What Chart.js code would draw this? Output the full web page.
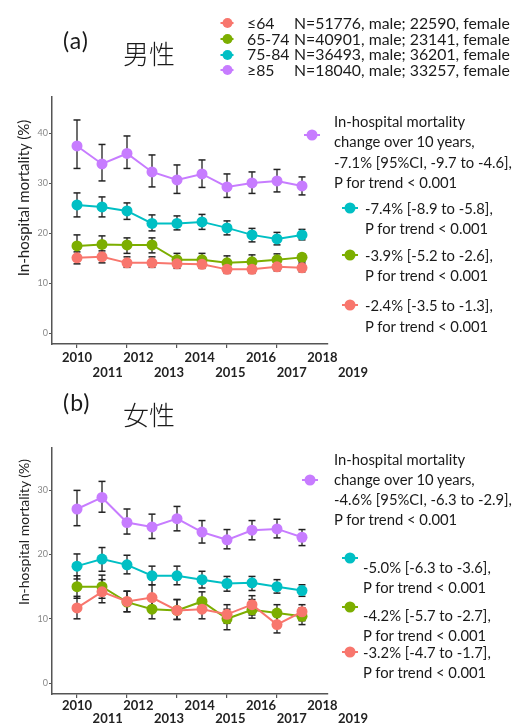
<!DOCTYPE html>
<html>
<head>
<meta charset="utf-8">
<script src="https://cdn.jsdelivr.net/npm/chart.js@4.4.1/dist/chart.umd.min.js"></script>
<style>
body{margin:0;background:#fff;}
#fig{position:relative;width:520px;height:726px;overflow:hidden;font-family:Lato,"Open Sans",sans-serif;color:#1a1a1a;}
canvas{position:absolute;left:0;top:0;}
.t{position:absolute;white-space:nowrap;}
.lab{font-size:23px;line-height:28px;letter-spacing:1px;}
.cjk{font-family:"Noto Sans CJK JP",sans-serif;font-size:26px;font-weight:300;line-height:30px;}
.ytitle{position:absolute;white-space:nowrap;transform:translate(-50%,-50%) rotate(-90deg);color:#222;}
.leg{font-size:15.8px;line-height:15.7px;}
.ann{font-size:14.8px;}
.key{position:absolute;height:2px;transform:translate(-50%,-50%);}
.key::after{content:'';position:absolute;left:50%;top:50%;border-radius:50%;background:inherit;transform:translate(-50%,-50%);}
.k1{width:13px;} .k1::after{width:10px;height:10px;}
.k2{width:16px;} .k2::after{width:11px;height:11px;}
</style>
</head>
<body>
<div id="fig">
  <canvas id="male" width="520" height="726"></canvas>
  <canvas id="female" width="520" height="726"></canvas>

  <div class="t lab" style="left:63px;top:26px;">(a)</div>
  <div class="t cjk" style="left:123px;top:38px;">男性</div>
  <div class="t lab" style="left:63px;top:388px;">(b)</div>
  <div class="t cjk" style="left:123px;top:399px;">女性</div>

  <div class="ytitle" style="left:23px;top:198px;font-size:15px;">In-hospital mortality (%)</div>
  <div class="ytitle" style="left:23px;top:532px;font-size:14px;">In-hospital mortality (%)</div>

  <!-- top legend -->
  <div class="key k1" style="left:227px;top:23px;background:#F8766D;"></div>
  <div class="key k1" style="left:227px;top:39px;background:#7CAE00;"></div>
  <div class="key k1" style="left:227px;top:55px;background:#00BFC4;"></div>
  <div class="key k1" style="left:227px;top:70px;background:#C77CFF;"></div>
  <div class="t leg" style="left:247px;top:15px;">≤64<br>65-74<br>75-84<br>≥85</div>
  <div class="t leg" style="left:294px;top:15px;">N=51776, male; 22590, female<br>N=40901, male; 23141, female<br>N=36493, male; 36201, female<br>N=18040, male; 33257, female</div>

  <!-- panel a notes -->
  <div class="key k2" style="left:312px;top:135px;background:#C77CFF;"></div>
  <div class="t ann" style="left:334px;top:110.75px;line-height:20.5px;">In-hospital mortality<br>change over 10 years,<br>-7.1% [95%CI, -9.7 to -4.6],<br>P for trend &lt; 0.001</div>
  <div class="key k2" style="left:350px;top:208px;background:#00BFC4;"></div>
  <div class="t ann" style="left:365px;top:198px;line-height:20px;">-7.4% [-8.9 to -5.8],<br>P for trend &lt; 0.001</div>
  <div class="key k2" style="left:350px;top:255px;background:#7CAE00;"></div>
  <div class="t ann" style="left:365px;top:245px;line-height:20px;">-3.9% [-5.2 to -2.6],<br>P for trend &lt; 0.001</div>
  <div class="key k2" style="left:350px;top:305px;background:#F8766D;"></div>
  <div class="t ann" style="left:365px;top:294.5px;line-height:21px;">-2.4% [-3.5 to -1.3],<br>P for trend &lt; 0.001</div>

  <!-- panel b notes -->
  <div class="key k2" style="left:310px;top:480px;background:#C77CFF;"></div>
  <div class="t ann" style="left:334px;top:449px;line-height:20px;">In-hospital mortality<br>change over 10 years,<br>-4.6% [95%CI, -6.3 to -2.9],<br>P for trend &lt; 0.001</div>
  <div class="key k2" style="left:350px;top:558px;background:#00BFC4;"></div>
  <div class="t ann" style="left:363px;top:557px;line-height:20px;">-5.0% [-6.3 to -3.6],<br>P for trend &lt; 0.001</div>
  <div class="key k2" style="left:350px;top:607px;background:#7CAE00;"></div>
  <div class="t ann" style="left:363px;top:605px;line-height:20px;">-4.2% [-5.7 to -2.7],<br>P for trend &lt; 0.001</div>
  <div class="key k2" style="left:350px;top:652px;background:#F8766D;"></div>
  <div class="t ann" style="left:363px;top:642px;line-height:20px;">-3.2% [-4.7 to -1.7],<br>P for trend &lt; 0.001</div>
</div>

<script>
// tick labels on the year axis
const years=[2010,2011,2012,2013,2014,2015,2016,2017,2018,2019];
const groups=["≤64","65-74","75-84","≥85"];
const colors=["#F8766D","#7CAE00","#00BFC4","#C77CFF"];

// male (a): mean, lower and upper CI
const male64  =[15.1,15.3,14.1,14.1,13.9,13.8,12.8,12.8,13.3,13.1];
const male64Lo=[13.9,14.1,13.2,13.2,13.0,13.0,12.0,12.0,12.5,12.3];
const male64Hi=[16.3,16.5,15.3,15.3,14.8,14.8,13.7,13.7,14.1,14.0];
const male74  =[17.5,17.8,17.7,17.7,14.7,14.7,14.1,14.3,14.7,15.2];
const male74Lo=[15.7,16.0,16.0,16.1,13.5,13.5,13.0,13.2,13.5,14.3];
const male74Hi=[19.7,19.5,19.1,19.1,16.0,16.0,15.5,15.7,15.9,15.9];
const male84  =[25.7,25.3,24.5,22.0,22.0,22.3,21.1,19.7,18.9,19.7];
const male84Lo=[23.3,23.3,22.8,20.5,20.7,20.8,19.7,18.3,17.7,18.7];
const male84Hi=[28.1,27.3,26.1,23.7,23.5,23.8,22.5,21.0,20.2,20.8];
const male85  =[37.5,33.9,36.0,32.3,30.7,31.9,29.3,30.1,30.5,29.5];
const male85Lo=[33.0,30.5,33.0,29.3,28.0,29.2,27.2,28.0,28.3,27.7];
const male85Hi=[42.7,37.8,39.5,35.7,33.7,34.7,31.9,32.3,32.8,31.3];

// female (b)
const female64  =[11.7,14.2,12.7,13.3,11.3,11.5,10.7,12.2,9.1,11.1];
const female64Lo=[10.0,12.5,11.1,11.5,9.9,10.0,9.3,10.6,7.8,9.7];
const female64Hi=[13.5,16.1,14.3,15.3,13.0,13.1,12.2,13.6,10.4,12.2];
const female74  =[15.0,15.0,12.6,11.5,11.3,12.7,10.0,11.4,10.9,10.4];
const female74Lo=[13.2,13.2,11.1,10.0,9.9,11.2,8.3,10.1,9.4,9.1];
const female74Hi=[16.7,16.8,14.3,13.1,13.0,14.2,11.5,13.0,12.2,11.7];
const female84  =[18.2,19.3,18.4,16.7,16.7,16.1,15.5,15.6,15.0,14.4];
const female84Lo=[16.2,17.4,17.0,15.3,15.3,14.8,14.3,14.4,14.0,13.5];
const female84Hi=[20.1,21.1,19.9,18.2,18.2,17.4,16.6,16.6,16.1,15.3];
const female85  =[27.1,28.9,25.0,24.3,25.6,23.5,22.3,23.8,24.0,22.7];
const female85Lo=[24.5,26.6,23.2,22.5,23.7,21.8,20.9,22.3,22.6,21.4];
const female85Hi=[30.0,31.4,27.1,26.3,27.5,25.3,23.9,25.3,25.5,23.9];

const font="Lato, 'Open Sans', sans-serif";

function points(values){
    let pts=[];
    for(let i=0;i<values.length;i++){
        pts.push({x:i,y:values[i]});
    }
    return pts;
}

// vertical whiskers, broken by null so each year is its own segment
function whiskers(lo,hi){
    let pts=[];
    for(let i=0;i<lo.length;i++){
        pts.push({x:i,y:lo[i]},{x:i,y:hi[i]},{x:i,y:null});
    }
    return pts;
}

function makeDataSet(means,los,his){
    let dataset=[];
    for(let g=0;g<means.length;g++){
        dataset.push({
            label: groups[g]+" CI",
            data: whiskers(los[g],his[g]),
            borderColor:"#222",
            borderWidth:1.3,
            pointStyle:"line",
            pointRadius:3.5,
            pointBorderColor:"#222",
            pointBorderWidth:1.5,
            spanGaps:false,
            order:1
        });
    }
    for(let g=0;g<means.length;g++){
        dataset.push({
            label: groups[g],
            data: points(means[g]),
            borderColor:colors[g],
            backgroundColor:colors[g],
            borderWidth:2,
            pointRadius:5.5,
            pointBorderWidth:0,
            pointBackgroundColor:colors[g],
            tension:0,
            order:0
        });
    }
    return dataset;
}

function makeGraph(id,means,los,his,opt){
    const step=0.815; // years per data step on the label axis
    let canvas=document.getElementById(id).getContext("2d");
    new Chart(canvas,{
        type:"line",
        data:{datasets:makeDataSet(means,los,his)},
        options:{
            responsive:false,
            animation:false,
            events:[],
            layout:{padding:{left:0,right:192,top:opt.top,bottom:opt.bottom}},
            plugins:{legend:{display:false},tooltip:{enabled:false}},
            scales:{
                x:{
                    type:"linear",position:"bottom",min:-1,max:10.04,
                    afterBuildTicks:function(s){s.ticks=[0,2,4,6,8].map(v=>({value:v}));},
                    ticks:{display:false},
                    grid:{drawOnChartArea:false,drawTicks:true,tickLength:4,color:"#555",lineWidth:1.2},
                    border:{color:"#555",width:1.5},
                    afterFit:function(s){s.height=4;}
                },
                xYears:{
                    type:"linear",axis:"x",position:"bottom",weight:1,
                    min:years[0]-step,max:years[0]+10.04*step,
                    afterBuildTicks:function(s){s.ticks=years.map(v=>({value:v}));},
                    ticks:{
                        autoSkip:false,maxRotation:0,padding:opt.labelPad,color:"#222",
                        font:{family:font,size:13,weight:"bold",lineHeight:opt.labelLine},
                        callback:function(v){return v%2==0?String(v):["",String(v)];}
                    },
                    grid:{display:false,drawTicks:false},
                    border:{display:false},
                    afterFit:function(s){s.height=opt.labelH;}
                },
                y:{
                    type:"linear",min:opt.ymin,max:opt.ymax,
                    ticks:{stepSize:10,includeBounds:false,color:"#888",padding:1,font:{family:font,size:9}},
                    grid:{drawOnChartArea:false,tickLength:3,color:"#555"},
                    border:{color:"#555",width:1.5},
                    afterFit:function(s){s.width=52;}
                }
            }
        }
    });
}

makeGraph("male",
    [male64,male74,male84,male85],
    [male64Lo,male74Lo,male84Lo,male85Lo],
    [male64Hi,male74Hi,male84Hi,male85Hi],
    {top:97,bottom:338,ymin:-2.14,ymax:47.3,labelPad:2,labelLine:1.15,labelH:40});

makeGraph("female",
    [female64,female74,female84,female85],
    [female64Lo,female74Lo,female84Lo,female85Lo],
    [female64Hi,female74Hi,female84Hi,female85Hi],
    {top:448,bottom:0,ymin:-1.71,ymax:36.6,labelPad:1,labelLine:1.03,labelH:28});
</script>
</body>
</html>
